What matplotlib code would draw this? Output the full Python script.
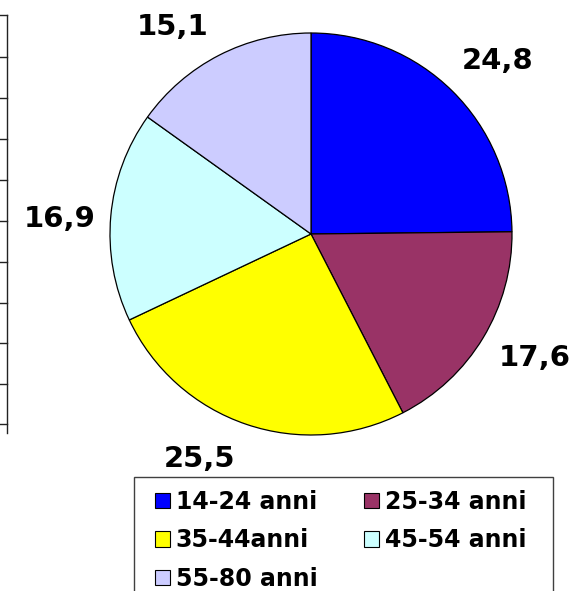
import numpy as np
from matplotlib import pyplot as plt
from matplotlib.patches import Patch, Rectangle
from matplotlib.lines import Line2D

# Data
categories = ["14-24 anni", "25-34 anni", "35-44anni", "45-54 anni", "55-80 anni"]
values = [24.8, 17.6, 25.5, 16.9, 15.1]
value_labels = ["24,8", "17,6", "25,5", "16,9", "15,1"]

colors = ["#0000FF", "#993366", "#FFFF00", "#CCFFFF", "#CCCCFF"]
# excel-like placement of the value labels (angle shift in degrees, radial factor)
label_angle_shift = [-2.5, 2.1, -7.6, 1.7, 6.5]
label_dist = [1.267, 1.274, 1.249, 1.251, 1.238]

W, H = 574, 591
fig = plt.figure(figsize=(W / 100, H / 100), dpi=100)
ax = fig.add_axes([0, 0, 1, 1])

# pie centre / radius in pixel units of this full-figure axes
cx, cy, r = 311, H - 234, 201
wedges, _ = ax.pie(values, colors=colors, startangle=90, counterclock=False,
                   radius=r, center=(cx, cy),
                   wedgeprops=dict(edgecolor="black", linewidth=0.9))

# value labels outside the slices
for w, txt, shift, d in zip(wedges, value_labels, label_angle_shift, label_dist):
    ang = np.deg2rad((w.theta1 + w.theta2) / 2 + shift)
    ax.text(cx + d * r * np.cos(ang), cy + d * r * np.sin(ang), txt,
            ha="center", va="center", fontsize=21, fontweight="bold",
            family="DejaVu Sans")

ax.set_xlim(0, W)
ax.set_ylim(0, H)
ax.axis("off")

# remains of the table on the left border
rows_y = [15, 57, 98, 139, 180, 221, 262, 303, 343, 384, 424]
fig.add_artist(Line2D([7 / W, 7 / W], [1 - 15 / H, 1 - 433 / H], color="#222222", lw=1))
for y in rows_y:
    fig.add_artist(Line2D([0, 7 / W], [1 - y / H, 1 - y / H], color="#222222", lw=1))

# legend frame (runs off the bottom of the picture)
ax.add_patch(Rectangle((134, -20), 553 - 134, H - 477 + 20, fill=False,
                       edgecolor="#404040", linewidth=1.0, clip_on=False))

# legend, filled row by row
handles = [Patch(facecolor=c, edgecolor="black", linewidth=0.8) for c in colors]
order = [0, 2, 4, 1, 3]
leg = fig.legend([handles[i] for i in order], [categories[i] for i in order],
                 ncol=2, loc="upper left",
                 bbox_to_anchor=(155 / W, 1 - 490 / H),
                 borderaxespad=0, borderpad=0, frameon=False,
                 prop=dict(size=17, weight="bold", family="DejaVu Sans"),
                 handlelength=0.63, handleheight=0.63, handletextpad=0.25,
                 labelspacing=0.61, columnspacing=1.97)

fig.savefig("out.png", dpi=100)
